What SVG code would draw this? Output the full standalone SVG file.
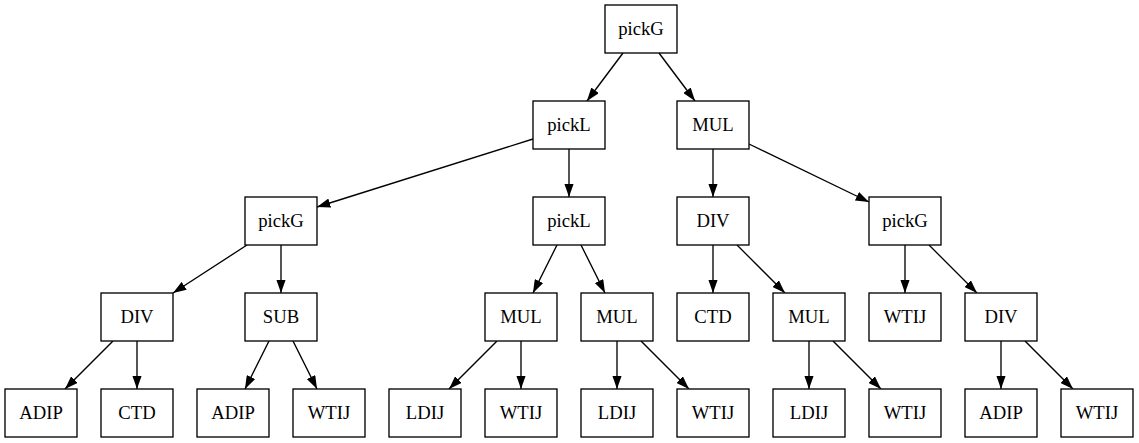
<svg xmlns="http://www.w3.org/2000/svg" width="1139" height="443" viewBox="0 0 1139 443">
<style>
.n rect{fill:#fff;stroke:#000;stroke-width:1.33}
.n text{font-family:"Liberation Serif","Times New Roman",serif;font-size:18.67px;text-anchor:middle;fill:#000}
#edges line{stroke:#000;stroke-width:1.33;marker-end:url(#ah)}
</style>
<defs>
<marker id="ah" viewBox="0 0 13.33 9.33" refX="13.33" refY="4.67" markerWidth="13.33" markerHeight="9.33" orient="auto" markerUnits="userSpaceOnUse">
<path d="M0,0 L13.33,4.67 L0,9.33 z" fill="#000"/>
</marker>
</defs>
<rect width="1139" height="443" fill="#fff"/>
<g id="edges">
<line x1="623" y1="53" x2="587" y2="101"/>
<line x1="659" y1="53" x2="695" y2="101"/>
<line x1="533" y1="139" x2="317" y2="207"/>
<line x1="569" y1="149" x2="569" y2="197"/>
<line x1="713" y1="149" x2="713" y2="197"/>
<line x1="749" y1="144" x2="869" y2="202"/>
<line x1="247" y1="245" x2="173" y2="293"/>
<line x1="281" y1="245" x2="281" y2="293"/>
<line x1="557" y1="245" x2="533" y2="293"/>
<line x1="581" y1="245" x2="605" y2="293"/>
<line x1="713" y1="245" x2="713" y2="293"/>
<line x1="737" y1="245" x2="785" y2="293"/>
<line x1="905" y1="245" x2="905" y2="293"/>
<line x1="929" y1="245" x2="977" y2="293"/>
<line x1="113" y1="341" x2="65" y2="389"/>
<line x1="137" y1="341" x2="137" y2="389"/>
<line x1="269" y1="341" x2="245" y2="389"/>
<line x1="293" y1="341" x2="317" y2="389"/>
<line x1="497" y1="341" x2="449" y2="389"/>
<line x1="521" y1="341" x2="521" y2="389"/>
<line x1="617" y1="341" x2="617" y2="389"/>
<line x1="641" y1="341" x2="689" y2="389"/>
<line x1="809" y1="341" x2="809" y2="389"/>
<line x1="833" y1="341" x2="881" y2="389"/>
<line x1="1001" y1="341" x2="1001" y2="389"/>
<line x1="1025" y1="341" x2="1073" y2="389"/>
</g>
<g id="n0" class="n"><rect x="605" y="5" width="72" height="48"/><text x="641" y="35">pickG</text></g>
<g id="n1" class="n"><rect x="533" y="101" width="72" height="48"/><text x="569" y="131">pickL</text></g>
<g id="n2" class="n"><rect x="677" y="101" width="72" height="48"/><text x="713" y="131">MUL</text></g>
<g id="n3" class="n"><rect x="245" y="197" width="72" height="48"/><text x="281" y="227">pickG</text></g>
<g id="n4" class="n"><rect x="533" y="197" width="72" height="48"/><text x="569" y="227">pickL</text></g>
<g id="n5" class="n"><rect x="677" y="197" width="72" height="48"/><text x="713" y="227">DIV</text></g>
<g id="n6" class="n"><rect x="869" y="197" width="72" height="48"/><text x="905" y="227">pickG</text></g>
<g id="n7" class="n"><rect x="101" y="293" width="72" height="48"/><text x="137" y="323">DIV</text></g>
<g id="n8" class="n"><rect x="245" y="293" width="72" height="48"/><text x="281" y="323">SUB</text></g>
<g id="n9" class="n"><rect x="485" y="293" width="72" height="48"/><text x="521" y="323">MUL</text></g>
<g id="n10" class="n"><rect x="581" y="293" width="72" height="48"/><text x="617" y="323">MUL</text></g>
<g id="n11" class="n"><rect x="677" y="293" width="72" height="48"/><text x="713" y="323">CTD</text></g>
<g id="n12" class="n"><rect x="773" y="293" width="72" height="48"/><text x="809" y="323">MUL</text></g>
<g id="n13" class="n"><rect x="869" y="293" width="72" height="48"/><text x="905" y="323">WTIJ</text></g>
<g id="n14" class="n"><rect x="965" y="293" width="72" height="48"/><text x="1001" y="323">DIV</text></g>
<g id="n15" class="n"><rect x="5" y="389" width="72" height="48"/><text x="41" y="419">ADIP</text></g>
<g id="n16" class="n"><rect x="101" y="389" width="72" height="48"/><text x="137" y="419">CTD</text></g>
<g id="n17" class="n"><rect x="197" y="389" width="72" height="48"/><text x="233" y="419">ADIP</text></g>
<g id="n18" class="n"><rect x="293" y="389" width="72" height="48"/><text x="329" y="419">WTIJ</text></g>
<g id="n19" class="n"><rect x="389" y="389" width="72" height="48"/><text x="425" y="419">LDIJ</text></g>
<g id="n20" class="n"><rect x="485" y="389" width="72" height="48"/><text x="521" y="419">WTIJ</text></g>
<g id="n21" class="n"><rect x="581" y="389" width="72" height="48"/><text x="617" y="419">LDIJ</text></g>
<g id="n22" class="n"><rect x="677" y="389" width="72" height="48"/><text x="713" y="419">WTIJ</text></g>
<g id="n23" class="n"><rect x="773" y="389" width="72" height="48"/><text x="809" y="419">LDIJ</text></g>
<g id="n24" class="n"><rect x="869" y="389" width="72" height="48"/><text x="905" y="419">WTIJ</text></g>
<g id="n25" class="n"><rect x="965" y="389" width="72" height="48"/><text x="1001" y="419">ADIP</text></g>
<g id="n26" class="n"><rect x="1061" y="389" width="72" height="48"/><text x="1097" y="419">WTIJ</text></g>
</svg>
